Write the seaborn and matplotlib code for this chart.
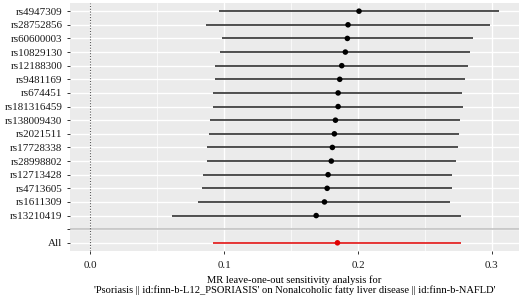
import matplotlib
matplotlib.use("Agg")
import matplotlib.pyplot as plt
import seaborn as sns
import pandas as pd
from matplotlib.ticker import MultipleLocator

snps = ["rs4947309", "rs28752856", "rs60600003", "rs10829130", "rs12188300",
        "rs9481169", "rs674451", "rs181316459", "rs138009430", "rs2021511",
        "rs17728338", "rs28998802", "rs12713428", "rs4713605", "rs1611309",
        "rs13210419", "", "All"]
b = [0.2007, 0.1925, 0.1920, 0.1905, 0.1878, 0.1863, 0.1851, 0.1851, 0.1831,
     0.1823, 0.1808, 0.1800, 0.1776, 0.1769, 0.1749, 0.1687, None, 0.1846]
lo = [0.0963, 0.0863, 0.0985, 0.0970, 0.0930, 0.0930, 0.0915, 0.0915, 0.0896,
      0.0888, 0.0871, 0.0871, 0.0841, 0.0833, 0.0801, 0.0607, None, 0.0915]
hi = [0.3050, 0.2985, 0.2856, 0.2836, 0.2820, 0.2796, 0.2780, 0.2786, 0.2760,
      0.2751, 0.2746, 0.2731, 0.2701, 0.2701, 0.2687, 0.2766, None, 0.2766]
xticks = [0.0, 0.1, 0.2, 0.3]
xlabel = ("MR leave-one-out sensitivity analysis for\n"
          "'Psoriasis || id:finn-b-L12_PSORIASIS' on Nonalcoholic fatty liver disease || id:finn-b-NAFLD'")

df = pd.DataFrame({"SNP": snps, "b": b, "lo": lo, "hi": hi})
df["grp"] = ["All" if s == "All" else "snp" for s in snps]

sns.set_theme(style="darkgrid", rc={
    "axes.facecolor": "#EBEBEB",
    "grid.color": "white",
})
plt.rcParams["font.family"] = ["Liberation Serif", "DejaVu Serif"]

fig = plt.figure(figsize=(5.21, 2.98), dpi=100)
ax = fig.add_axes([70 / 521, 1 - 251 / 298, 449 / 521, 248 / 298])
ax.set_facecolor("#EBEBEB")

d = df[df["SNP"] != ""].copy()
pos = {s: i for i, s in enumerate(snps)}
d["ypos"] = [pos[s] for s in d["SNP"]]

ax.axhline(pos[""], color="#BEBEBE", lw=1.1, zorder=1)
ax.axvline(0, color="#555555", lw=0.8, ls=(0, (1, 1.5)), zorder=1)

for _, r in d.iterrows():
    ax.hlines(r["ypos"], r["lo"], r["hi"],
              color="#E00000" if r["grp"] == "All" else "#222222", lw=1.1, zorder=2)

sns.scatterplot(data=d, x="b", y="ypos", hue="grp",
                palette={"snp": "black", "All": "#E00000"},
                s=16, linewidth=0, legend=False, ax=ax, zorder=3)

ax.set_yticks(list(range(len(snps))))
ax.set_yticklabels(snps)
ax.set_ylim(len(snps) - 1 + 0.6, -0.6)
ax.set_xlim(-0.01525, 0.32025)
ax.set_xticks(xticks)
ax.set_xticklabels([f"{t:.1f}" for t in xticks])
ax.xaxis.set_minor_locator(MultipleLocator(0.05))

ax.grid(which="major", color="white", lw=1.0)
ax.grid(which="minor", axis="x", color="white", lw=0.5)
ax.set_axisbelow(True)
for sp in ax.spines.values():
    sp.set_visible(False)

ax.tick_params(axis="both", which="major", left=True, bottom=True,
               length=2.5, width=0.7, color="#333333",
               labelsize=7.9, labelcolor="#1a1a1a", pad=3)
ax.tick_params(axis="x", which="major", pad=4.5)
ax.tick_params(axis="both", which="minor", length=0, left=False, bottom=False)
ax.set_ylabel("")
ax.set_xlabel(xlabel, fontsize=7.6, linespacing=1.1, labelpad=4, color="black")

fig.savefig("out.png", dpi=100)
